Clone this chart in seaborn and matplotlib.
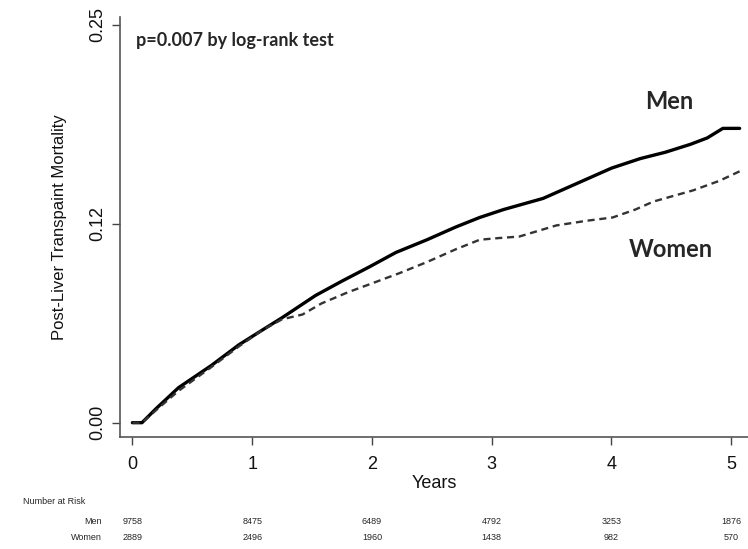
import numpy as np
import pandas as pd
import seaborn as sns
import matplotlib.pyplot as plt
from matplotlib.transforms import blended_transform_factory

# datos
men_years = [0, 0.08, 0.2, 0.385, 0.66, 0.89, 1.08, 1.25, 1.53, 1.75, 1.98, 2.2, 2.46, 2.70, 2.90, 3.1, 3.43, 3.7, 4.0, 4.24, 4.45, 4.66, 4.8, 4.93, 5.07]
men_mort = [0, 0, 0.009, 0.022, 0.036, 0.049, 0.058, 0.066, 0.080, 0.089, 0.098, 0.107, 0.115, 0.123, 0.129, 0.134, 0.141, 0.150, 0.160, 0.166, 0.170, 0.175, 0.179, 0.185, 0.185]
women_years = [0, 0.08, 0.2, 0.385, 0.66, 0.89, 1.08, 1.25, 1.42, 1.58, 1.8, 1.98, 2.23, 2.46, 2.7, 2.90, 3.05, 3.23, 3.54, 3.8, 4.01, 4.2, 4.35, 4.68, 4.9, 5.07]
women_mort = [0, 0, 0.008, 0.020, 0.035, 0.048, 0.058, 0.065, 0.068, 0.075, 0.082, 0.087, 0.094, 0.101, 0.109, 0.115, 0.116, 0.117, 0.124, 0.127, 0.129, 0.134, 0.139, 0.146, 0.152, 0.158]

risk_years = [0, 1, 2, 3, 4, 5]
risk_men = [9758, 8475, 6489, 4792, 3253, 1876]
risk_women = [2889, 2496, 1960, 1438, 982, 570]

y_ticks = [0, 0.125, 0.25]
y_labels = ["0.00", "0.12", "0.25"]

df_men = pd.DataFrame({"years": men_years, "mort": men_mort})
df_women = pd.DataFrame({"years": women_years, "mort": women_mort})

sns.set_theme(style="white")
plt.rcParams['font.family'] = ['Liberation Sans', 'DejaVu Sans']

fig = plt.figure(figsize=(7.48, 5.49), dpi=100)
ax = fig.add_axes([0.161, 0.204, 0.839, 0.765])

sns.lineplot(x="years", y="mort", data=df_men, ax=ax, color="black", lw=2.4,
             estimator=None, sort=False)
sns.lineplot(x="years", y="mort", data=df_women, ax=ax, color="#333333", lw=1.7,
             estimator=None, sort=False, linestyle=(0, (3, 2)))

ax.set_xlim(-0.1, 5.14)
ax.set_ylim(-0.009, 0.255)
ax.set_xticks(risk_years)
ax.set_yticks(y_ticks)
ax.set_yticklabels(y_labels, rotation=90, va="center")
ax.tick_params(axis="both", direction="out", length=6, width=1, color="#444444",
               labelsize=13, labelcolor="#111111", bottom=True, left=True)
ax.tick_params(axis="x", pad=8)
ax.tick_params(axis="y", pad=4)
for s in ["top", "right"]:
    ax.spines[s].set_visible(False)
for s in ["left", "bottom"]:
    ax.spines[s].set_color("#555555")
    ax.spines[s].set_linewidth(1.2)

ax.set_xlabel("Years", fontsize=13, labelpad=1, color="#111111")
ax.set_ylabel("Post-Liver Transpaint Mortality", fontsize=12, labelpad=16, color="#111111")

ax.text(0.03, 0.24, "p=0.007 by log-rank test", fontsize=13, fontweight="bold",
        family=["Lato", "DejaVu Sans"], va="center", ha="left")
ax.text(4.48, 0.202, "Men", fontsize=17, fontweight="bold",
        family=["Lato", "DejaVu Sans"], va="center", ha="center")
ax.text(4.5, 0.109, "Women", fontsize=17, fontweight="bold",
        family=["Lato", "DejaVu Sans"], va="center", ha="center")

# tabla de numero en riesgo
fig.text(23 / 748, 1 - 502 / 549, "Number at Risk", fontsize=6.5, va="center", ha="left")
fig.text(102 / 748, 1 - 521 / 549, "Men", fontsize=6.5, va="center", ha="right")
fig.text(102 / 748, 1 - 537 / 549, "Women", fontsize=6.5, va="center", ha="right")
trans = blended_transform_factory(ax.transData, fig.transFigure)
for yr, m, w in zip(risk_years, risk_men, risk_women):
    ax.text(yr, 1 - 521 / 549, str(m), transform=trans, fontsize=6.5, ha="center", va="center")
    ax.text(yr, 1 - 537 / 549, str(w), transform=trans, fontsize=6.5, ha="center", va="center")

plt.savefig("out.png", dpi=100)
